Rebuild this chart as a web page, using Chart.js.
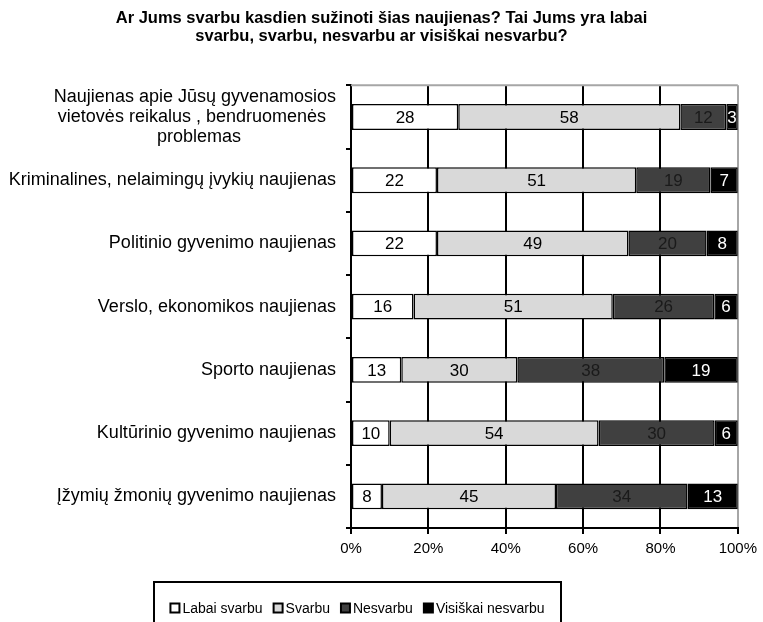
<!DOCTYPE html>
<html>
<head>
<meta charset="utf-8">
<script src="https://cdn.jsdelivr.net/npm/chart.js@4/dist/chart.umd.min.js"></script>
<style>
  html, body { margin: 0; padding: 0; background: #fff; }
</style>
</head>
<body>
<canvas id="chart" width="763" height="622"></canvas>
<script>
// categories (first one is split on 3 lines, trailing spaces keep the lines centred)
const categories = [
  ['Naujienas apie Jūsų gyvenamosios', 'vietovės reikalus , bendruomenės  ', 'problemas' + ' '.repeat(19)],
  'Kriminalines, nelaimingų įvykių naujienas',
  'Politinio gyvenimo naujienas',
  'Verslo, ekonomikos naujienas',
  'Sporto naujienas',
  'Kultūrinio gyvenimo naujienas',
  'Įžymių žmonių gyvenimo naujienas'
]

const labaiSvarbu = [28, 22, 22, 16, 13, 10, 8]
const svarbu = [58, 51, 49, 51, 30, 54, 45]
const nesvarbu = [12, 19, 20, 26, 38, 30, 34]
const visiskaiNesvarbu = [3, 7, 8, 6, 19, 6, 13]

const seriesNames = ['Labai svarbu', 'Svarbu', 'Nesvarbu', 'Visiškai nesvarbu']
const xTicks = [0, 20, 40, 60, 80, 100]

const title = [
  'Ar Jums svarbu kasdien sužinoti šias naujienas? Tai Jums yra labai',
  'svarbu, svarbu, nesvarbu ar visiškai nesvarbu?'
]

const series = [labaiSvarbu, svarbu, nesvarbu, visiskaiNesvarbu]
const fills = ['#ffffff', '#d9d9d9', '#404040', '#000000']
const labelColors = ['#000000', '#000000', '#1a1a1a', '#ffffff']

// 100% stacked: each row is scaled to its own total
const rowTotals = categories.map((c, i) => series.reduce((s, arr) => s + arr[i], 0))

const FONT = "'Liberation Sans', Arial, sans-serif"
Chart.defaults.font.family = FONT
Chart.defaults.color = '#000'

const decor = {
  id: 'decor',
  afterLayout(chart) {
    // title is centred on the whole canvas, not on the padded box
    if (chart.titleBlock) chart.titleBlock.right = chart.width
  },
  afterDatasetsDraw(chart) {
    const ctx = chart.ctx
    ctx.save()
    ctx.font = '17px ' + FONT
    ctx.textAlign = 'center'
    ctx.textBaseline = 'middle'
    chart.data.datasets.forEach((ds, di) => {
      chart.getDatasetMeta(di).data.forEach((bar, i) => {
        const p = bar.getProps(['x', 'y', 'base'], true)
        ctx.fillStyle = labelColors[di]
        ctx.fillText(String(series[di][i]), (p.x + p.base) / 2, p.y + 1)
      })
    })
    ctx.restore()
  },
  afterDraw(chart) {
    const ctx = chart.ctx
    const area = chart.chartArea
    ctx.save()
    // grey top frame line
    ctx.strokeStyle = '#a6a6a6'
    ctx.lineWidth = 2
    ctx.beginPath()
    ctx.moveTo(area.left, area.top)
    ctx.lineTo(area.right, area.top)
    ctx.stroke()

    // legend in a framed box
    ctx.font = '14px ' + FONT
    const widths = seriesNames.map(n => ctx.measureText(n).width)
    const total = widths.reduce((s, w) => s + w + 12, 0) + 11 * (seriesNames.length - 1)
    const boxW = 407, boxTop = chart.height - 40, cx = 357.5
    ctx.strokeStyle = '#000'
    ctx.lineWidth = 2
    ctx.strokeRect(cx - boxW / 2, boxTop, boxW, 60)
    let x = cx - total / 2
    const y = boxTop + 26
    seriesNames.forEach((n, i) => {
      ctx.fillStyle = fills[i]
      ctx.fillRect(x, y - 4.5, 9, 9)
      ctx.lineWidth = 2
      ctx.strokeRect(x, y - 4.5, 9, 9)
      ctx.fillStyle = '#000'
      ctx.textAlign = 'left'
      ctx.textBaseline = 'middle'
      ctx.fillText(n, x + 12, y + 1)
      x += 12 + widths[i] + 11
    })
    ctx.restore()
  }
}

new Chart(document.getElementById('chart'), {
  type: 'bar',
  data: {
    labels: categories,
    datasets: series.map((arr, di) => ({
      label: seriesNames[di],
      data: arr.map((v, i) => v / rowTotals[i] * 100),
      backgroundColor: fills[di],
      borderColor: '#000',
      borderWidth: 1.5,
      borderSkipped: false,
      barPercentage: 0.41,
      categoryPercentage: 1
    }))
  },
  options: {
    indexAxis: 'y',
    responsive: false,
    animation: false,
    layout: { padding: { left: 0, right: 24, top: 0, bottom: 58 } },
    scales: {
      x: {
        stacked: true,
        min: 0,
        max: 100,
        afterBuildTicks: s => { s.ticks = xTicks.map(v => ({ value: v })) },
        ticks: {
          callback: v => v + '%',
          font: { size: 15 },
          color: '#000',
          padding: 6,
          maxRotation: 0
        },
        grid: {
          color: c => (c.tick && c.tick.value === 100 ? '#a6a6a6' : '#000'),
          lineWidth: 2,
          tickLength: 6,
          tickColor: '#000'
        },
        border: { color: '#000', width: 2 }
      },
      y: {
        stacked: true,
        afterFit: s => { s.width = 351 },
        ticks: {
          autoSkip: false,
          font: { size: 18, lineHeight: 1.12 },
          color: '#000',
          padding: 10
        },
        grid: {
          offset: true,
          drawOnChartArea: false,
          tickLength: 5,
          color: '#000',
          lineWidth: 2
        },
        border: { color: '#000', width: 2 }
      }
    },
    plugins: {
      legend: { display: false },
      tooltip: { enabled: false },
      title: {
        display: true,
        text: title,
        color: '#000',
        font: { size: 16.5, weight: 'bold', lineHeight: 1.1 },
        padding: { top: 9, bottom: 40 }
      }
    }
  },
  plugins: [decor]
})
</script>
</body>
</html>
